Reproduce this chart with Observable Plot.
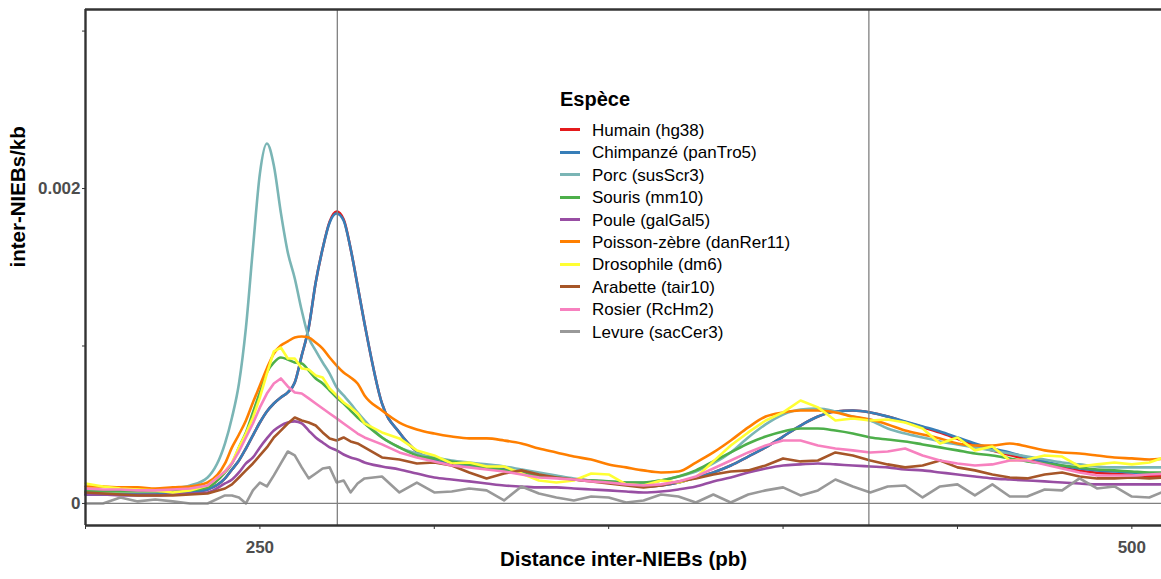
<!DOCTYPE html>
<html><head><meta charset="utf-8">
<script src="https://cdn.jsdelivr.net/npm/d3@7"></script>
<script src="https://cdn.jsdelivr.net/npm/@observablehq/plot@0.6"></script>
<style>
body{margin:0;background:#fff;font-family:"Liberation Sans",Arial,Helvetica,sans-serif;}
#wrap{position:relative;width:1161px;height:579px;overflow:hidden;}
#legend{position:absolute;left:560px;top:87px;color:#000;}
#legend .title{font-weight:bold;font-size:20px;height:32.8px;line-height:25px;}
#legend .row{height:22.4px;display:flex;align-items:center;font-size:17px;}
#legend .sw{width:20px;height:3px;margin-right:12px;position:relative;top:-1px;}
</style></head><body><div id="wrap"></div>
<script>
// distance inter-NIEBs (pb)
const xs = [200,205,210,215,220,225,230,235,240,
  242,244,246,248,250,252,254,256,258,260,262,264,266,268,270,272,274,276,278,280,
  285,290,295,300,305,310,315,320,325,330,335,340,345,350,355,360,365,370,375,380,
  385,390,395,400,405,410,415,420,425,430,435,440,445,450,455,460,465,470,475,480,
  485,490,495,500,505,510];

// values in units of 1e-3 inter-NIEBs/kb
const humain = [.057,.057,.057,.057,.057,.063,.070,.089,.159,
  .216,.273,.349,.432,.514,.584,.635,.673,.705,.768,.940,1.117,1.403,1.619,1.790,1.854,1.805,1.619,1.384,1.143,
  .635,.451,.330,.273,.254,.235,.222,.216,.197,.184,.165,.152,.146,.133,.121,.108,.114,.133,.165,.197,
  .241,.298,.356,.425,.495,.552,.584,.590,.578,.552,.518,.485,.450,.410,.370,.336,.308,.278,.252,.228,
  .208,.195,.188,.182,.176,.175];
const chimpanze = [.057,.057,.057,.057,.057,.063,.070,.089,.159,
  .216,.273,.349,.432,.514,.584,.635,.673,.705,.768,.940,1.117,1.403,1.619,1.784,1.841,1.797,1.619,1.384,1.143,
  .635,.451,.330,.273,.254,.235,.222,.216,.197,.184,.165,.152,.146,.133,.121,.108,.114,.133,.165,.197,
  .241,.298,.356,.425,.495,.552,.584,.590,.578,.552,.521,.489,.457,.419,.381,.349,.324,.292,.267,.241,
  .222,.210,.203,.197,.190,.190];
const porc = [.083,.083,.083,.083,.083,.095,.114,.165,.381,
  .546,.762,1.117,1.619,2.095,2.286,2.146,1.848,1.594,1.429,1.225,1.054,.971,.895,.825,.737,.686,.635,.578,.527,
  .419,.356,.317,.292,.273,.260,.248,.235,.216,.197,.178,.159,.146,.140,.133,.133,.146,.171,.203,.254,
  .324,.419,.502,.565,.597,.603,.584,.552,.527,.476,.444,.419,.394,.375,.356,.337,.317,.298,.279,.260,
  .248,.235,.229,.229,.229,.229];
const souris = [.076,.076,.076,.076,.076,.076,.083,.102,.197,
  .254,.356,.451,.578,.705,.832,.895,.927,.914,.895,.889,.844,.794,.762,.717,.673,.635,.590,.546,.508,
  .419,.356,.305,.286,.267,.248,.229,.210,.190,.178,.165,.152,.146,.140,.133,.133,.146,.171,.210,.267,
  .324,.381,.425,.457,.476,.476,.463,.444,.419,.406,.394,.375,.356,.337,.317,.305,.286,.267,.254,.241,
  .229,.216,.210,.203,.197,.197];
const poule = [.057,.057,.051,.051,.051,.057,.063,.070,.127,
  .152,.197,.254,.292,.356,.413,.463,.495,.514,.521,.508,.463,.419,.387,.356,.337,.311,.292,.279,.260,
  .235,.216,.190,.165,.152,.140,.127,.114,.108,.102,.102,.095,.089,.083,.076,.070,.076,.089,.108,.140,
  .165,.197,.222,.241,.248,.254,.248,.241,.235,.229,.216,.210,.197,.184,.171,.159,.152,.146,.140,.133,
  .127,.121,.121,.121,.121,.121];
const poisson = [.108,.108,.102,.102,.095,.102,.108,.133,.254,
  .356,.438,.527,.641,.749,.857,.952,1.003,1.029,1.054,1.060,1.054,1.022,.984,.927,.876,.832,.800,.762,.686,
  .590,.514,.470,.444,.425,.413,.413,.400,.381,.349,.324,.298,.279,.248,.229,.210,.197,.203,.260,.324,
  .400,.483,.552,.578,.590,.590,.578,.552,.533,.502,.463,.438,.413,.381,.368,.368,.381,.362,.337,.324,
  .317,.305,.292,.286,.279,.286];
const drosophile = [.127,.108,.095,.089,.083,.070,.083,.114,.203,
  .260,.356,.444,.546,.673,.825,.965,.990,.921,.921,.857,.851,.813,.800,.730,.686,.641,.610,.571,.508,
  .451,.413,.337,.305,.254,.260,.235,.235,.190,.146,.133,.146,.190,.184,.121,.114,.146,.133,.165,.267,
  .368,.451,.527,.578,.654,.610,.527,.540,.527,.533,.514,.476,.381,.419,.337,.362,.273,.279,.305,.298,
  .235,.248,.260,.248,.260,.298];
const arabette = [.070,.063,.057,.051,.051,.051,.057,.063,.095,
  .121,.165,.210,.254,.305,.356,.419,.463,.508,.546,.527,.514,.495,.451,.413,.400,.419,.394,.381,.356,
  .292,.279,.254,.260,.241,.197,.159,.190,.210,.184,.165,.152,.140,.127,.114,.102,.114,.140,.159,.184,
  .203,.210,.241,.286,.267,.273,.324,.305,.273,.248,.229,.241,.273,.229,.210,.184,.165,.159,.184,.197,
  .171,.159,.159,.165,.159,.165];
const rosier = [.095,.089,.089,.083,.083,.089,.095,.114,.203,
  .254,.330,.419,.508,.610,.698,.762,.794,.743,.705,.698,.667,.635,.603,.571,.540,.508,.476,.444,.419,
  .375,.324,.292,.267,.241,.229,.216,.203,.184,.165,.159,.152,.140,.133,.121,.114,.121,.140,.171,.222,
  .273,.324,.368,.400,.400,.368,.349,.337,.324,.330,.349,.305,.273,.254,.241,.248,.273,.273,.248,.222,
  .197,.178,.178,.178,.184,.190];
const levure = [0,0,.038,.013,.025,.013,0,0,.051,
  .051,.038,0,.083,.133,.108,.178,.254,.330,.305,.229,.159,.190,.222,.229,.133,.146,.070,.127,.159,
  .171,.070,.133,.070,.076,.095,.083,.019,.108,.063,.038,.019,.044,.038,.006,.019,.057,.044,.006,.057,
  .006,.057,.083,.102,.051,.083,.152,.108,.070,.108,.114,.038,.108,.121,.051,.121,.044,.044,.089,.083,
  .159,.095,.108,.044,.038,.083];

const species = ["Humain (hg38)","Chimpanzé (panTro5)","Porc (susScr3)","Souris (mm10)","Poule (galGal5)",
  "Poisson-zèbre (danRer11)","Drosophile (dm6)","Arabette (tair10)","Rosier (RcHm2)","Levure (sacCer3)"];
const seriesValues = [humain, chimpanze, porc, souris, poule, poisson, drosophile, arabette, rosier, levure];
const colors = ["#e41a1c","#377eb8","#7ab5b5","#4daf4a","#984ea3","#ff7f00","#ffff33","#a65628","#f781bf","#999999"];
// noisy series are drawn with straight segments, smooth ones with a monotone curve
const noisySpecies = ["Drosophile (dm6)","Arabette (tair10)","Rosier (RcHm2)","Levure (sacCer3)"];

const xTicks = [200,250,300,350,400,450,500];
const xTickLabels = [250,500];
const yTicks = [0,0.001,0.002,0.003];
const yTickLabels = [0,0.002];
const refLines = [272.2,424.6];
const xTitle = "Distance inter-NIEBs (pb)";
const yTitle = "inter-NIEBs/kb";
const legendTitle = "Espèce";
const UNIT = 1e-3;

const rows = [];
species.forEach((name, i) => seriesValues[i].forEach((v, j) => rows.push({species: name, x: xs[j], y: v * UNIT})));
const smoothRows = rows.filter(d => !noisySpecies.includes(d.species));
const noisyRows = rows.filter(d => noisySpecies.includes(d.species));

const xDomain = [200, 508.5];
const yDomain = [-0.00014, 0.003137];
const font = '"Liberation Sans", Arial, Helvetica, sans-serif';

const chart = Plot.plot({
  width: 1161, height: 579,
  marginLeft: 85, marginRight: 0, marginTop: 9, marginBottom: 54,
  x: {domain: xDomain},
  y: {domain: yDomain},
  color: {domain: species, range: colors},
  style: {fontFamily: font, fontSize: "17px", fontWeight: "bold", color: "#4d4d4d", background: "white", overflow: "visible"},
  marks: [
    Plot.line(smoothRows, {x: "x", y: "y", z: "species", stroke: "species", strokeWidth: 2.6, curve: "monotone-x"}),
    Plot.line(noisyRows, {x: "x", y: "y", z: "species", stroke: "species", strokeWidth: 2.6}),
    Plot.ruleY([0], {stroke: "#808080", strokeWidth: 1.3}),
    Plot.ruleX(refLines, {stroke: "#808080", strokeWidth: 1.3}),
    Plot.ruleX([xDomain[0]], {stroke: "#333333", strokeWidth: 2.4}),
    Plot.ruleY(yDomain, {stroke: "#333333", strokeWidth: 2.4}),
    Plot.axisX({ticks: xTicks, tickFormat: d => xTickLabels.includes(d) ? String(d) : "", tickSize: 4, tickPadding: 11, label: null, stroke: "#333333"}),
    Plot.axisY({ticks: yTicks, tickFormat: d => yTickLabels.includes(d) ? String(d) : "", tickSize: 3, tickPadding: 2, label: null, stroke: "#333333"}),
    Plot.text([xTitle], {text: d => d, frameAnchor: "bottom", dy: 40, fontSize: 20.5, fontWeight: "bold", fill: "#000"}),
    Plot.text([yTitle], {text: d => d, frameAnchor: "left", dx: -67, rotate: -90, fontSize: 20.5, fontWeight: "bold", fill: "#000"})
  ]
});

const wrap = document.getElementById("wrap");
wrap.appendChild(chart);

const legend = document.createElement("div");
legend.id = "legend";
const lt = document.createElement("div");
lt.className = "title";
lt.textContent = legendTitle;
legend.appendChild(lt);
species.forEach((name, i) => {
  const row = document.createElement("div");
  row.className = "row";
  const sw = document.createElement("div");
  sw.className = "sw";
  sw.style.background = colors[i];
  const label = document.createElement("span");
  label.textContent = name;
  row.appendChild(sw);
  row.appendChild(label);
  legend.appendChild(row);
});
wrap.appendChild(legend);
</script></body></html>
